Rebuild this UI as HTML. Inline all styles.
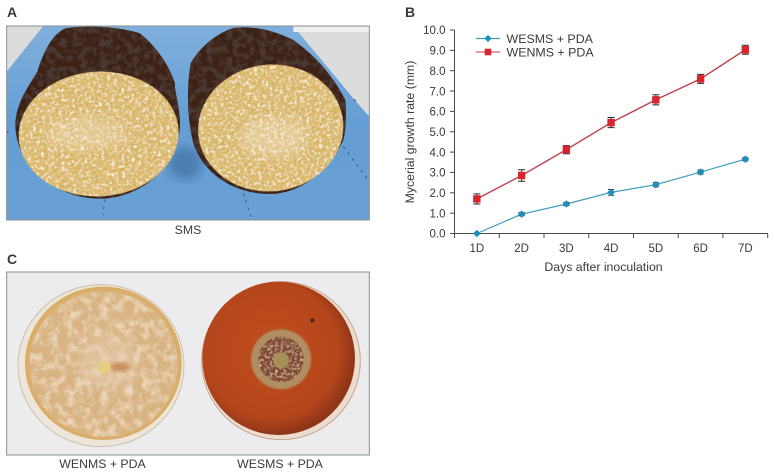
<!DOCTYPE html>
<html lang="en">
<head>
<meta charset="utf-8">
<title>Mycelial growth figure</title>
<style>
html,body{margin:0;padding:0;background:#fff;width:775px;height:475px;overflow:hidden}
svg{display:block;font-family:"Liberation Sans",Arial,sans-serif}
text{fill:#3a3a3a}
</style>
</head>
<body>
<svg id="fig" width="775" height="475" viewBox="0 0 775 475" xmlns="http://www.w3.org/2000/svg">
<defs>
  <filter id="crumb" x="0" y="0" width="100%" height="100%">
    <feTurbulence type="fractalNoise" baseFrequency="0.1" numOctaves="2" seed="4" result="n"/>
    <feColorMatrix in="n" type="matrix" values="0 0 0 0 .96  0 0 0 0 .92  0 0 0 0 .78  3.2 0 0 0 -1.5" result="light"/>
    <feComposite in="light" in2="SourceAlpha" operator="in" result="l2"/>
    <feTurbulence type="fractalNoise" baseFrequency="0.14" numOctaves="2" seed="11" result="m"/>
    <feColorMatrix in="m" type="matrix" values="0 0 0 0 .62  0 0 0 0 .42  0 0 0 0 .12  3.4 0 0 0 -1.6" result="dark"/>
    <feComposite in="dark" in2="SourceAlpha" operator="in" result="d2"/>
    <feMerge><feMergeNode in="SourceGraphic"/><feMergeNode in="l2"/><feMergeNode in="d2"/></feMerge>
  </filter>
  <filter id="bark" x="0" y="0" width="100%" height="100%">
    <feTurbulence type="fractalNoise" baseFrequency="0.05" numOctaves="3" seed="8" result="n"/>
    <feColorMatrix in="n" type="matrix" values="0 0 0 0 .07  0 0 0 0 .04  0 0 0 0 .03  4 0 0 0 -1.6" result="dark"/>
    <feComposite in="dark" in2="SourceAlpha" operator="in" result="d2"/>
    <feMerge><feMergeNode in="SourceGraphic"/><feMergeNode in="d2"/></feMerge>
  </filter>
  <filter id="fluff" x="0" y="0" width="100%" height="100%">
    <feTurbulence type="fractalNoise" baseFrequency="0.04" numOctaves="3" seed="3" result="n"/>
    <feColorMatrix in="n" type="matrix" values="0 0 0 0 .91  0 0 0 0 .78  0 0 0 0 .62  1.8 0 0 0 -.75" result="l"/>
    <feComposite in="l" in2="SourceAlpha" operator="in" result="l2"/>
    <feMerge><feMergeNode in="SourceGraphic"/><feMergeNode in="l2"/></feMerge>
  </filter>
  <filter id="ring" x="0" y="0" width="100%" height="100%">
    <feTurbulence type="fractalNoise" baseFrequency="0.12" numOctaves="2" seed="6" result="n"/>
    <feColorMatrix in="n" type="matrix" values="0 0 0 0 .68  0 0 0 0 .5  0 0 0 0 .34  3 0 0 0 -1.4" result="l"/>
    <feComposite in="l" in2="SourceAlpha" operator="in" result="l2"/>
    <feMerge><feMergeNode in="SourceGraphic"/><feMergeNode in="l2"/></feMerge>
  </filter>
  <filter id="b1"><feGaussianBlur stdDeviation="2"/></filter>
  <filter id="b3"><feGaussianBlur stdDeviation="6"/></filter>
  <filter id="b9"><feGaussianBlur stdDeviation="16"/></filter>
  <linearGradient id="blueBg" x1="0" y1="0" x2="0" y2="1">
    <stop offset="0" stop-color="#7fafdc"/><stop offset=".5" stop-color="#659ed5"/><stop offset="1" stop-color="#6aa0d3"/>
  </linearGradient>
  <radialGradient id="agarR" cx=".45" cy=".45" r=".55">
    <stop offset="0" stop-color="#bf4e1e"/><stop offset=".8" stop-color="#b5461b"/><stop offset="1" stop-color="#8f3518"/>
  </radialGradient>
  <radialGradient id="agarL" cx=".5" cy=".5" r=".52">
    <stop offset="0" stop-color="#dfc094"/><stop offset=".85" stop-color="#dcb888"/><stop offset="1" stop-color="#d8a552"/>
  </radialGradient>
  <clipPath id="clipA"><rect x="20" y="78" width="1088" height="582"/></clipPath>
  <clipPath id="clipC"><rect x="20" y="81" width="1088" height="549"/></clipPath>
</defs>

<text x="7" y="17" font-size="14" font-weight="bold" fill="#222">A</text>
<text x="405" y="17" font-size="14" font-weight="bold" fill="#222">B</text>
<text x="7" y="264" font-size="14" font-weight="bold" fill="#222">C</text>

<!-- Panel A photo -->
<g transform="scale(.33333)">
  <g clip-path="url(#clipA)">
    <rect x="20" y="78" width="1088" height="582" fill="url(#blueBg)"/>
    <polygon points="20,78 130,78 20,215" fill="#dcdcdc"/>
    <polygon points="880,78 1108,78 1108,350 1060,295" fill="#dcdcdc"/>
    <rect x="880" y="78" width="228" height="18" fill="#eeeeee"/>
    <ellipse cx="555" cy="490" rx="50" ry="50" fill="#3f6f9f" opacity=".7" filter="url(#b9)"/>
    <path d="M730,580 L755,655 M315,598 L308,645 M1030,440 L1105,540 M1062,298 L1075,310 M22,400 L30,380" stroke="#2f5a88" stroke-width="3" stroke-dasharray="8 14" fill="none"/>
    <path filter="url(#bark)" fill="#3e2318" d="M46,372 C48,310 85,260 112,215 C135,140 165,95 200,84 C260,76 350,78 420,100 C470,140 510,200 525,250 C522,270 540,320 540,370 C540,500 420,596 300,596 C170,596 46,500 46,372 Z"/>
    <path filter="url(#bark)" fill="#3e2318" d="M580,430 C560,350 560,260 572,190 C600,140 650,100 700,84 C750,78 810,85 880,120 C950,170 1000,230 1036,300 C1040,350 1036,400 1030,420 C990,510 900,582 810,582 C700,582 610,520 580,430 Z"/>
    <ellipse filter="url(#crumb)" fill="#dfbb6e" cx="296" cy="402" rx="240" ry="187" transform="rotate(-3 296 402)"/>
    <ellipse filter="url(#crumb)" fill="#dfbb6e" cx="812" cy="384" rx="218" ry="190" transform="rotate(-6 812 384)"/>
    <ellipse cx="260" cy="400" rx="120" ry="50" fill="#f6eedb" opacity=".3" filter="url(#b9)"/>
    <ellipse cx="820" cy="410" rx="100" ry="60" fill="#f6eedb" opacity=".35" filter="url(#b9)"/>
  </g>
  <rect x="20" y="78" width="1088" height="582" fill="none" stroke="#8a8f93" stroke-width="3"/>
</g>
<text x="188" y="234" font-size="12.3" text-anchor="middle">SMS</text>

<!-- Panel C photo -->
<g transform="translate(0,245) scale(.33333)">
  <g clip-path="url(#clipC)">
    <rect x="20" y="81" width="1088" height="549" fill="#ececee"/>
    <ellipse cx="303" cy="362" rx="249" ry="243" fill="#ebe5da" stroke="#cdbfa9" stroke-width="3"/>
    <ellipse cx="310" cy="355" rx="235" ry="230" fill="url(#agarL)"/>
    <ellipse cx="311" cy="358" rx="222" ry="218" fill="#d9b482" filter="url(#fluff)"/>
    <ellipse cx="325" cy="350" rx="85" ry="80" fill="#e6ccb0" opacity=".55" filter="url(#b9)"/>
    <ellipse cx="360" cy="366" rx="30" ry="14" fill="#c98c5e" filter="url(#b3)"/>
    <circle cx="313" cy="367" r="19" fill="#e6cf80"/>
    <ellipse cx="843" cy="347" rx="238" ry="237" fill="#ecdcd0" stroke="#c4a795" stroke-width="3"/>
    <ellipse cx="836" cy="340" rx="229" ry="230" fill="url(#agarR)"/>
    <circle cx="843" cy="343" r="90" fill="#b08e62" filter="url(#b1)"/>
    <circle cx="843" cy="343" r="68" fill="#7f4a30" filter="url(#ring)"/>
    <circle cx="843" cy="346" r="24" fill="#a68f58"/>
    <circle cx="937" cy="226" r="6" fill="#4a2416"/>
  </g>
  <rect x="20" y="81" width="1088" height="549" fill="none" stroke="#8a8f93" stroke-width="3"/>
</g>
<text x="102.5" y="468" font-size="12.3" text-anchor="middle">WENMS + PDA</text>
<text x="280" y="468" font-size="12.3" text-anchor="middle">WESMS + PDA</text>

<!-- Panel B chart -->
<g id="chart"></g>
</svg>

<script>
const categories = ['1D','2D','3D','4D','5D','6D','7D'];
const yTickLabels = ['0.0','1.0','2.0','3.0','4.0','5.0','6.0','7.0','8.0','9.0','10.0'];
const yTickValues = [0,1,2,3,4,5,6,7,8,9,10];
const wesmsValues = [0,0.95,1.45,2.02,2.4,3.02,3.65];
const wesmsErrors = [0,0.08,0.08,0.14,0.1,0.1,0.08];
const wenmsValues = [1.7,2.85,4.12,5.45,6.57,7.6,9.03];
const wenmsErrors = [0.25,0.28,0.2,0.25,0.25,0.22,0.22];
const wesmsName = 'WESMS + PDA';
const wenmsName = 'WENMS + PDA';

const NS = 'http://www.w3.org/2000/svg';
const chart = document.getElementById('chart');
const plot = {left:454.5, right:767.7, top:30, bottom:233.5, yMax:10};
function xPos(i){ return plot.left + (i + .5) * (plot.right - plot.left) / categories.length; }
function xEdge(i){ return plot.left + i * (plot.right - plot.left) / categories.length; }
function yPos(v){ return plot.bottom - v / plot.yMax * (plot.bottom - plot.top); }
function mk(tag, attrs, text){
  const el = document.createElementNS(NS, tag);
  for (const k in attrs) el.setAttribute(k, attrs[k]);
  if (text !== undefined) el.textContent = text;
  chart.appendChild(el);
  return el;
}
const AX = '#4a4a4a';

let el = mk('line', {x1:plot.left, x2:plot.left, y1:plot.top, y2:plot.bottom, stroke:AX, 'stroke-width':1});


el = mk('line', {x1:plot.left, x2:plot.right, y1:plot.bottom, y2:plot.bottom, stroke:AX, 'stroke-width':1});



yTickValues.forEach(function(v, i){
  const y = yPos(v);
  const t = mk('line', {x1:plot.left - 4.5, x2:plot.left, y1:y, y2:y, stroke:AX, 'stroke-width':1});
  
  
  const l = mk('text', {x:plot.left - 9, y:y + 4.2, 'font-size':11.5, 'text-anchor':'end'}, yTickLabels[i]);
  
  
});
for (let i = 0; i <= categories.length; i++) {
  const t = mk('line', {x1:xEdge(i), x2:xEdge(i), y1:plot.bottom, y2:plot.bottom + 4.5, stroke:AX, 'stroke-width':1});
  
  
}
categories.forEach(function(c, i){
  const l = mk('text', {x:xPos(i), y:252, 'font-size':11.5, 'text-anchor':'middle'}, c);
  
  
});
el = mk('text', {x:603.5, y:271, 'font-size':12.3, 'text-anchor':'middle'}, 'Days after inoculation');


el = mk('text', {transform:'translate(414 132) rotate(-90)', 'font-size':12.3, 'text-anchor':'middle'}, 'Mycerial growth rate (mm)');



function linePts(vals){ return vals.map(function(v, i){ return xPos(i) + ',' + yPos(v); }).join(' '); }

function drawErrors(vals, errs, cap){
  vals.forEach(function(v, i){
    if (!errs[i]) return;
    const x = xPos(i), a = yPos(v + errs[i]), b = yPos(v - errs[i]);
    const e = mk('path', {d:'M' + (x-cap) + ' ' + a + 'H' + (x+cap) + 'M' + x + ' ' + a + 'V' + b + 'M' + (x-cap) + ' ' + b + 'H' + (x+cap), stroke:'#2b2b2b', 'stroke-width':1, fill:'none'});
    
    
  });
}

el = mk('polyline', {points:linePts(wesmsValues), fill:'none', stroke:'#3f9dbd', 'stroke-width':1.2});


el = mk('polyline', {points:linePts(wenmsValues), fill:'none', stroke:'#bd444f', 'stroke-width':1.4});


drawErrors(wesmsValues, wesmsErrors, 3);
drawErrors(wenmsValues, wenmsErrors, 3.5);

function diamond(x, y, r){ return 'M' + x + ' ' + (y-r) + 'L' + (x+r) + ' ' + y + 'L' + x + ' ' + (y+r) + 'L' + (x-r) + ' ' + y + 'Z'; }
wesmsValues.forEach(function(v, i){
  const m = mk('path', {d:diamond(xPos(i), yPos(v), 3.8), fill:'#1f8fbc'});
  
  
});
wenmsValues.forEach(function(v, i){
  const m = mk('rect', {x:xPos(i)-3.7, y:yPos(v)-3.7, width:7.4, height:7.4, fill:'#d9232e'});
  
  
});

el = mk('line', {x1:476, x2:500, y1:38.5, y2:38.5, stroke:'#3f9dbd', 'stroke-width':1.2});


el = mk('path', {d:diamond(488, 38.5, 3.6), fill:'#1f8fbc'});


el = mk('text', {x:506.5, y:43, 'font-size':12.4}, wesmsName);


el = mk('line', {x1:476, x2:500, y1:52, y2:52, stroke:'#d0606a', 'stroke-width':1.3});


el = mk('rect', {x:484.7, y:48.7, width:6.6, height:6.6, fill:'#d9232e'});


el = mk('text', {x:506.5, y:56.5, 'font-size':12.4}, wenmsName);


</script>
</body>
</html>
